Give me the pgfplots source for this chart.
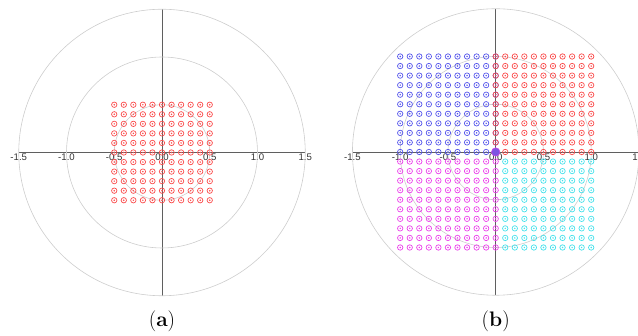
\documentclass[border=0pt]{standalone}
\usepackage{fontspec}
\setsansfont{Liberation Sans}
\usepackage{pgfplots}
\pgfplotsset{compat=1.18}
\definecolor{cred}{RGB}{250,75,75}
\definecolor{cblue}{RGB}{85,85,235}
\definecolor{cmag}{RGB}{235,65,235}
\definecolor{ccyan}{RGB}{70,225,235}
\definecolor{cgrid}{RGB}{205,205,205}
\definecolor{caxis}{RGB}{95,95,95}
\definecolor{corig}{RGB}{125,85,225}
\pgfdeclareplotmark{odot}{%
  \pgfpathcircle{\pgfpointorigin}{\pgfplotmarksize}\pgfusepathqstroke
  \pgfpathcircle{\pgfpointorigin}{0.3\pgfplotmarksize}\pgfusepathqfill}
\pgfplotsset{
  panel/.style={
    x=95.5pt, y=95.5pt,
    xmin=-1.5, xmax=1.5, ymin=-1.5, ymax=1.5,
    anchor=origin, clip=false,
    axis lines=middle,
    axis line style={-, draw=caxis, line width=0.9pt},
    xtick={-1.5,-1,-0.5,0,0.5,1,1.5}, ytick=\empty,
    hide obscured x ticks=false,
    major tick length=0pt,
    tick style={draw=none},
    xticklabel style={font=\sffamily\fontsize{9.6}{10}\selectfont, text=black!80, inner sep=1.3pt},
    xticklabel={\pgfmathprintnumber[fixed,precision=1,zerofill,assume math mode=true]{\tick}},
    xlabel={}, ylabel={},
  },
  pts/.style={only marks, mark=odot, mark size=2.7pt, draw=#1, fill=#1, mark options={line width=0.7pt}},
}
\begin{document}
\begin{tikzpicture}[x=1pt,y=1pt]
\useasboundingbox (0,0) rectangle (638,336);
% ---------------- (a)
\begin{axis}[panel, at={(162pt,183.5pt)}]
\draw[cgrid, line width=0.6pt] (axis cs:0,0) circle[radius=0.5];
\draw[cgrid, line width=0.6pt] (axis cs:0,0) circle[radius=1];
\draw[cgrid, line width=0.6pt] (axis cs:0,0) circle[radius=1.5];
\addplot[pts=cred] coordinates {
(-0.5,0.5)(-0.4,0.5)(-0.3,0.5)(-0.2,0.5)(-0.1,0.5)(0,0.5)(0.1,0.5)(0.2,0.5)(0.3,0.5)(0.4,0.5)(0.5,0.5)
(-0.5,0.4)(-0.4,0.4)(-0.3,0.4)(-0.2,0.4)(-0.1,0.4)(0,0.4)(0.1,0.4)(0.2,0.4)(0.3,0.4)(0.4,0.4)(0.5,0.4)
(-0.5,0.3)(-0.4,0.3)(-0.3,0.3)(-0.2,0.3)(-0.1,0.3)(0,0.3)(0.1,0.3)(0.2,0.3)(0.3,0.3)(0.4,0.3)(0.5,0.3)
(-0.5,0.2)(-0.4,0.2)(-0.3,0.2)(-0.2,0.2)(-0.1,0.2)(0,0.2)(0.1,0.2)(0.2,0.2)(0.3,0.2)(0.4,0.2)(0.5,0.2)
(-0.5,0.1)(-0.4,0.1)(-0.3,0.1)(-0.2,0.1)(-0.1,0.1)(0,0.1)(0.1,0.1)(0.2,0.1)(0.3,0.1)(0.4,0.1)(0.5,0.1)
(-0.5,0)(-0.4,0)(-0.3,0)(-0.2,0)(-0.1,0)(0,0)(0.1,0)(0.2,0)(0.3,0)(0.4,0)(0.5,0)
(-0.5,-0.1)(-0.4,-0.1)(-0.3,-0.1)(-0.2,-0.1)(-0.1,-0.1)(0,-0.1)(0.1,-0.1)(0.2,-0.1)(0.3,-0.1)(0.4,-0.1)(0.5,-0.1)
(-0.5,-0.2)(-0.4,-0.2)(-0.3,-0.2)(-0.2,-0.2)(-0.1,-0.2)(0,-0.2)(0.1,-0.2)(0.2,-0.2)(0.3,-0.2)(0.4,-0.2)(0.5,-0.2)
(-0.5,-0.3)(-0.4,-0.3)(-0.3,-0.3)(-0.2,-0.3)(-0.1,-0.3)(0,-0.3)(0.1,-0.3)(0.2,-0.3)(0.3,-0.3)(0.4,-0.3)(0.5,-0.3)
(-0.5,-0.4)(-0.4,-0.4)(-0.3,-0.4)(-0.2,-0.4)(-0.1,-0.4)(0,-0.4)(0.1,-0.4)(0.2,-0.4)(0.3,-0.4)(0.4,-0.4)(0.5,-0.4)
(-0.5,-0.5)(-0.4,-0.5)(-0.3,-0.5)(-0.2,-0.5)(-0.1,-0.5)(0,-0.5)(0.1,-0.5)(0.2,-0.5)(0.3,-0.5)(0.4,-0.5)(0.5,-0.5)
};
\end{axis}
% ---------------- (b)
\begin{axis}[panel, at={(495.7pt,184pt)}]
\draw[cgrid, line width=0.6pt] (axis cs:0,0) circle[radius=0.5];
\draw[cgrid, line width=0.6pt] (axis cs:0,0) circle[radius=1];
\draw[cgrid, line width=0.6pt] (axis cs:0,0) circle[radius=1.5];
% blue: x in [-1,0], y in [0,1]
\addplot[pts=cblue] coordinates {
(-1,1)(-0.9,1)(-0.8,1)(-0.7,1)(-0.6,1)(-0.5,1)(-0.4,1)(-0.3,1)(-0.2,1)(-0.1,1)(0,1)
(-1,0.9)(-0.9,0.9)(-0.8,0.9)(-0.7,0.9)(-0.6,0.9)(-0.5,0.9)(-0.4,0.9)(-0.3,0.9)(-0.2,0.9)(-0.1,0.9)(0,0.9)
(-1,0.8)(-0.9,0.8)(-0.8,0.8)(-0.7,0.8)(-0.6,0.8)(-0.5,0.8)(-0.4,0.8)(-0.3,0.8)(-0.2,0.8)(-0.1,0.8)(0,0.8)
(-1,0.7)(-0.9,0.7)(-0.8,0.7)(-0.7,0.7)(-0.6,0.7)(-0.5,0.7)(-0.4,0.7)(-0.3,0.7)(-0.2,0.7)(-0.1,0.7)(0,0.7)
(-1,0.6)(-0.9,0.6)(-0.8,0.6)(-0.7,0.6)(-0.6,0.6)(-0.5,0.6)(-0.4,0.6)(-0.3,0.6)(-0.2,0.6)(-0.1,0.6)(0,0.6)
(-1,0.5)(-0.9,0.5)(-0.8,0.5)(-0.7,0.5)(-0.6,0.5)(-0.5,0.5)(-0.4,0.5)(-0.3,0.5)(-0.2,0.5)(-0.1,0.5)(0,0.5)
(-1,0.4)(-0.9,0.4)(-0.8,0.4)(-0.7,0.4)(-0.6,0.4)(-0.5,0.4)(-0.4,0.4)(-0.3,0.4)(-0.2,0.4)(-0.1,0.4)(0,0.4)
(-1,0.3)(-0.9,0.3)(-0.8,0.3)(-0.7,0.3)(-0.6,0.3)(-0.5,0.3)(-0.4,0.3)(-0.3,0.3)(-0.2,0.3)(-0.1,0.3)(0,0.3)
(-1,0.2)(-0.9,0.2)(-0.8,0.2)(-0.7,0.2)(-0.6,0.2)(-0.5,0.2)(-0.4,0.2)(-0.3,0.2)(-0.2,0.2)(-0.1,0.2)(0,0.2)
(-1,0.1)(-0.9,0.1)(-0.8,0.1)(-0.7,0.1)(-0.6,0.1)(-0.5,0.1)(-0.4,0.1)(-0.3,0.1)(-0.2,0.1)(-0.1,0.1)(0,0.1)
(-1,0)(-0.9,0)(-0.8,0)(-0.7,0)(-0.6,0)(-0.5,0)(-0.4,0)(-0.3,0)(-0.2,0)(-0.1,0)(0,0)
};
% red: x in [0,1], y in [0,1]
\addplot[pts=cred] coordinates {
(0,1)(0.1,1)(0.2,1)(0.3,1)(0.4,1)(0.5,1)(0.6,1)(0.7,1)(0.8,1)(0.9,1)(1,1)
(0,0.9)(0.1,0.9)(0.2,0.9)(0.3,0.9)(0.4,0.9)(0.5,0.9)(0.6,0.9)(0.7,0.9)(0.8,0.9)(0.9,0.9)(1,0.9)
(0,0.8)(0.1,0.8)(0.2,0.8)(0.3,0.8)(0.4,0.8)(0.5,0.8)(0.6,0.8)(0.7,0.8)(0.8,0.8)(0.9,0.8)(1,0.8)
(0,0.7)(0.1,0.7)(0.2,0.7)(0.3,0.7)(0.4,0.7)(0.5,0.7)(0.6,0.7)(0.7,0.7)(0.8,0.7)(0.9,0.7)(1,0.7)
(0,0.6)(0.1,0.6)(0.2,0.6)(0.3,0.6)(0.4,0.6)(0.5,0.6)(0.6,0.6)(0.7,0.6)(0.8,0.6)(0.9,0.6)(1,0.6)
(0,0.5)(0.1,0.5)(0.2,0.5)(0.3,0.5)(0.4,0.5)(0.5,0.5)(0.6,0.5)(0.7,0.5)(0.8,0.5)(0.9,0.5)(1,0.5)
(0,0.4)(0.1,0.4)(0.2,0.4)(0.3,0.4)(0.4,0.4)(0.5,0.4)(0.6,0.4)(0.7,0.4)(0.8,0.4)(0.9,0.4)(1,0.4)
(0,0.3)(0.1,0.3)(0.2,0.3)(0.3,0.3)(0.4,0.3)(0.5,0.3)(0.6,0.3)(0.7,0.3)(0.8,0.3)(0.9,0.3)(1,0.3)
(0,0.2)(0.1,0.2)(0.2,0.2)(0.3,0.2)(0.4,0.2)(0.5,0.2)(0.6,0.2)(0.7,0.2)(0.8,0.2)(0.9,0.2)(1,0.2)
(0,0.1)(0.1,0.1)(0.2,0.1)(0.3,0.1)(0.4,0.1)(0.5,0.1)(0.6,0.1)(0.7,0.1)(0.8,0.1)(0.9,0.1)(1,0.1)
(0,0)(0.1,0)(0.2,0)(0.3,0)(0.4,0)(0.5,0)(0.6,0)(0.7,0)(0.8,0)(0.9,0)(1,0)
};
% magenta: x in [-1,0], y in [-1,-0.1]
\addplot[pts=cmag] coordinates {
(-1,-0.1)(-0.9,-0.1)(-0.8,-0.1)(-0.7,-0.1)(-0.6,-0.1)(-0.5,-0.1)(-0.4,-0.1)(-0.3,-0.1)(-0.2,-0.1)(-0.1,-0.1)(0,-0.1)
(-1,-0.2)(-0.9,-0.2)(-0.8,-0.2)(-0.7,-0.2)(-0.6,-0.2)(-0.5,-0.2)(-0.4,-0.2)(-0.3,-0.2)(-0.2,-0.2)(-0.1,-0.2)(0,-0.2)
(-1,-0.3)(-0.9,-0.3)(-0.8,-0.3)(-0.7,-0.3)(-0.6,-0.3)(-0.5,-0.3)(-0.4,-0.3)(-0.3,-0.3)(-0.2,-0.3)(-0.1,-0.3)(0,-0.3)
(-1,-0.4)(-0.9,-0.4)(-0.8,-0.4)(-0.7,-0.4)(-0.6,-0.4)(-0.5,-0.4)(-0.4,-0.4)(-0.3,-0.4)(-0.2,-0.4)(-0.1,-0.4)(0,-0.4)
(-1,-0.5)(-0.9,-0.5)(-0.8,-0.5)(-0.7,-0.5)(-0.6,-0.5)(-0.5,-0.5)(-0.4,-0.5)(-0.3,-0.5)(-0.2,-0.5)(-0.1,-0.5)(0,-0.5)
(-1,-0.6)(-0.9,-0.6)(-0.8,-0.6)(-0.7,-0.6)(-0.6,-0.6)(-0.5,-0.6)(-0.4,-0.6)(-0.3,-0.6)(-0.2,-0.6)(-0.1,-0.6)(0,-0.6)
(-1,-0.7)(-0.9,-0.7)(-0.8,-0.7)(-0.7,-0.7)(-0.6,-0.7)(-0.5,-0.7)(-0.4,-0.7)(-0.3,-0.7)(-0.2,-0.7)(-0.1,-0.7)(0,-0.7)
(-1,-0.8)(-0.9,-0.8)(-0.8,-0.8)(-0.7,-0.8)(-0.6,-0.8)(-0.5,-0.8)(-0.4,-0.8)(-0.3,-0.8)(-0.2,-0.8)(-0.1,-0.8)(0,-0.8)
(-1,-0.9)(-0.9,-0.9)(-0.8,-0.9)(-0.7,-0.9)(-0.6,-0.9)(-0.5,-0.9)(-0.4,-0.9)(-0.3,-0.9)(-0.2,-0.9)(-0.1,-0.9)(0,-0.9)
(-1,-1)(-0.9,-1)(-0.8,-1)(-0.7,-1)(-0.6,-1)(-0.5,-1)(-0.4,-1)(-0.3,-1)(-0.2,-1)(-0.1,-1)(0,-1)
};
% cyan: x in [0.1,1], y in [-1,-0.1]
\addplot[pts=ccyan] coordinates {
(0.1,-0.1)(0.2,-0.1)(0.3,-0.1)(0.4,-0.1)(0.5,-0.1)(0.6,-0.1)(0.7,-0.1)(0.8,-0.1)(0.9,-0.1)(1,-0.1)
(0.1,-0.2)(0.2,-0.2)(0.3,-0.2)(0.4,-0.2)(0.5,-0.2)(0.6,-0.2)(0.7,-0.2)(0.8,-0.2)(0.9,-0.2)(1,-0.2)
(0.1,-0.3)(0.2,-0.3)(0.3,-0.3)(0.4,-0.3)(0.5,-0.3)(0.6,-0.3)(0.7,-0.3)(0.8,-0.3)(0.9,-0.3)(1,-0.3)
(0.1,-0.4)(0.2,-0.4)(0.3,-0.4)(0.4,-0.4)(0.5,-0.4)(0.6,-0.4)(0.7,-0.4)(0.8,-0.4)(0.9,-0.4)(1,-0.4)
(0.1,-0.5)(0.2,-0.5)(0.3,-0.5)(0.4,-0.5)(0.5,-0.5)(0.6,-0.5)(0.7,-0.5)(0.8,-0.5)(0.9,-0.5)(1,-0.5)
(0.1,-0.6)(0.2,-0.6)(0.3,-0.6)(0.4,-0.6)(0.5,-0.6)(0.6,-0.6)(0.7,-0.6)(0.8,-0.6)(0.9,-0.6)(1,-0.6)
(0.1,-0.7)(0.2,-0.7)(0.3,-0.7)(0.4,-0.7)(0.5,-0.7)(0.6,-0.7)(0.7,-0.7)(0.8,-0.7)(0.9,-0.7)(1,-0.7)
(0.1,-0.8)(0.2,-0.8)(0.3,-0.8)(0.4,-0.8)(0.5,-0.8)(0.6,-0.8)(0.7,-0.8)(0.8,-0.8)(0.9,-0.8)(1,-0.8)
(0.1,-0.9)(0.2,-0.9)(0.3,-0.9)(0.4,-0.9)(0.5,-0.9)(0.6,-0.9)(0.7,-0.9)(0.8,-0.9)(0.9,-0.9)(1,-0.9)
(0.1,-1)(0.2,-1)(0.3,-1)(0.4,-1)(0.5,-1)(0.6,-1)(0.7,-1)(0.8,-1)(0.9,-1)(1,-1)
};
% origin
\addplot[only marks, mark=*, mark size=4.2pt, draw=cmag!70!corig, fill=corig, mark options={line width=0.6pt}] coordinates {(0,0)};
\end{axis}
\node[font=\fontsize{21}{21}\selectfont] at (162,15) {(\textbf{a})};
\node[font=\fontsize{21}{21}\selectfont] at (495.7,15) {(\textbf{b})};
\end{tikzpicture}
\end{document}
